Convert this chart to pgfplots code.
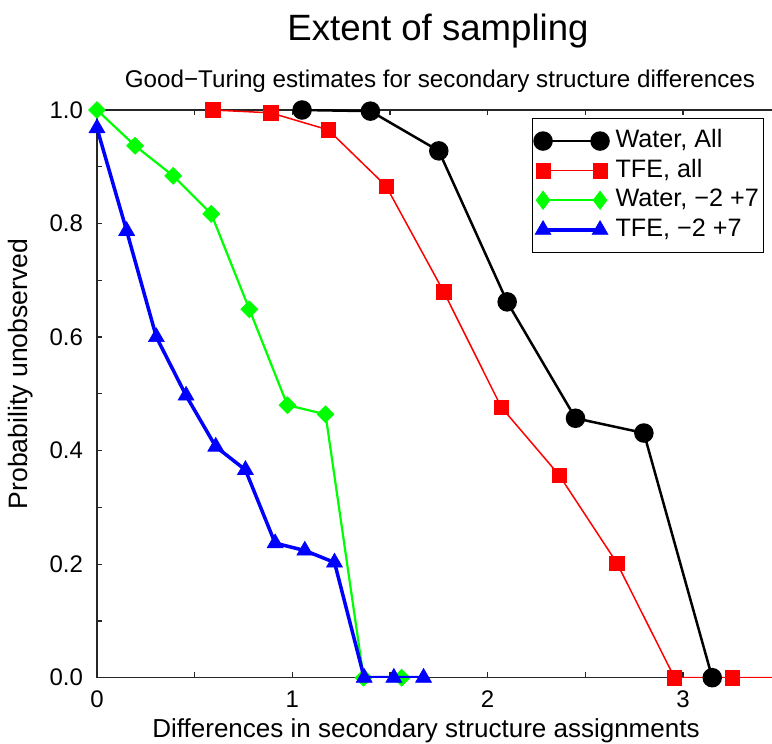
\documentclass[border=0pt]{standalone}
\usepackage{fontspec}
\setmainfont{Liberation Sans}
\usepackage{pgfplots}
\pgfplotsset{compat=1.18}
\usetikzlibrary{calc}
\definecolor{gblack}{RGB}{0,0,0}
\definecolor{gred}{RGB}{255,0,0}
\definecolor{ggreen}{RGB}{0,255,0}
\definecolor{gblue}{RGB}{0,0,255}

\pgfplotsset{
 sblack/.style={gblack, line width=1.25pt, mark=*, mark size=4.25pt, mark options={fill=gblack, solid}},
 sred/.style={gred, line width=0.75pt, mark=square*, mark size=3.6pt, mark options={fill=gred, solid, line width=0.3pt}},
 sgreen/.style={ggreen, line width=1.1pt, mark=square*, mark size=3pt, mark options={fill=ggreen, rotate=45, solid, line width=0.3pt}},
 sgreenleg/.style={ggreen, line width=1.1pt, mark=diamond*, mark size=4.6pt, mark options={fill=ggreen, solid, line width=0.3pt}},
 sblue/.style={gblue, line width=1.75pt, mark=triangle*, mark size=4.6pt, mark options={fill=gblue, solid, line width=0.3pt}},
}

\begin{document}
\begin{tikzpicture}
\begin{axis}[
 scale only axis, width=337.5pt, height=283.85pt,
 xmin=0, xmax=3.456, ymin=0, ymax=1,
 axis x line=box, axis y line=left,
 axis line style={-, line width=0.6pt, black!85},
 tick align=inside,
 tick style={line width=0.6pt, black!85},
 xtick={0,1,2,3}, minor xtick={0.5,1.5,2.5},
 ytick={0,0.2,0.4,0.6,0.8,1.0}, minor ytick={0.1,0.3,0.5,0.7,0.9},
 major tick length=2.6pt, minor tick length=2.6pt,
 /pgf/number format/assume math mode=true,
 tick label style={font=\fontsize{12}{14}\selectfont},
 yticklabel style={/pgf/number format/fixed, /pgf/number format/fixed zerofill, /pgf/number format/precision=1, xshift=-3.5pt},
 xticklabel style={yshift=-3pt},
 xticklabels={0,1,2,3},
 clip mode=individual,
 legend cell align=left,
 legend image code/.code={\draw[mark repeat=1, mark phase=1, #1] plot coordinates {(0pt,0pt) (28.5pt,0pt)};},
 legend style={draw=black, line width=0.6pt, fill=white, at={(0.988,0.986)}, anchor=north east,
  font=\fontsize{12.6}{15}\selectfont, inner xsep=1.2pt, inner ysep=4pt, row sep=0.3pt,
  nodes={inner sep=1pt, text height=9.5pt, text depth=3pt},
  /tikz/every odd column/.append style={column sep=2.5pt}},
]
\coordinate (bl) at (rel axis cs:0,0);
\addlegendimage{sblack}\addlegendentry{Water, All}
\addlegendimage{sred}\addlegendentry{TFE, all}
\addlegendimage{sgreenleg}\addlegendentry{Water, −2 +7}
\addlegendimage{sblue}\addlegendentry{TFE, −2 +7}

\addplot[sred, forget plot] coordinates {
 (0.593,1.000) (0.889,0.995) (1.184,0.965) (1.480,0.866) (1.775,0.680) (2.071,0.476)
 (2.366,0.357) (2.662,0.202) (2.957,0.000) (3.253,0.000) (3.548,0.000)};
\addplot[sblack, forget plot] coordinates {
 (1.05,1.000) (1.40,0.998) (1.75,0.928) (2.10,0.662) (2.45,0.457) (2.80,0.431) (3.15,0.000)};
\addplot[sgreen, forget plot] coordinates {
 (0.000,1.000) (0.195,0.937) (0.390,0.884) (0.585,0.817) (0.780,0.649) (0.975,0.480)
 (1.170,0.464) (1.365,0.000) (1.560,0.000)};
\addplot[sblue, forget plot] coordinates {
 (0.000,0.968) (0.152,0.787) (0.304,0.600) (0.456,0.497) (0.608,0.407) (0.760,0.366)
 (0.912,0.237) (1.064,0.224) (1.216,0.203) (1.368,0.000) (1.520,0.000) (1.672,0.000)};
\end{axis}

\begin{scope}[x=0.5pt, y=-0.5pt, shift={($(bl)+(-48.5pt,338.85pt)$)}]
 \node at (438,31) {\fontsize{18.3}{21}\selectfont Extent of sampling};
 \node at (440,81) {\fontsize{12.1}{14}\selectfont Good−Turing estimates for secondary structure differences};
 \node at (426,731) {\fontsize{13}{15}\selectfont Differences in secondary structure assignments};
 \node[rotate=90] at (21,374) {\fontsize{13.3}{15}\selectfont Probability unobserved};
 \pgfresetboundingbox
 \path (0,0) rectangle (772,744);
\end{scope}
\end{tikzpicture}
\end{document}
